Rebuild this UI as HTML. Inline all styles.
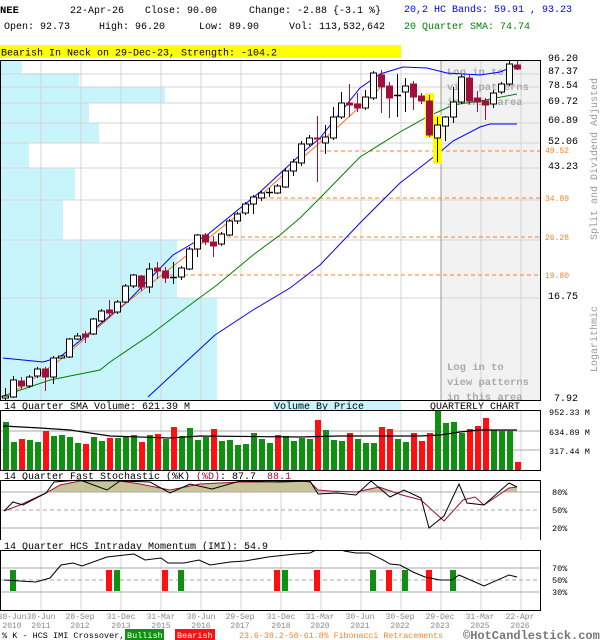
<!DOCTYPE html>
<html><head><meta charset="utf-8"><style>
body{margin:0;background:#fff;width:600px;height:640px;overflow:hidden}
svg{display:block}
text{font-family:"Liberation Mono",monospace}
</style></head><body>
<svg id="s" width="600" height="640" viewBox="0 0 600 640" xmlns="http://www.w3.org/2000/svg">
<rect width="600" height="640" fill="#fff"/>
<g font-size="10" fill="#000">
<text x="0" y="13" font-weight="bold" font-size="10.5">NEE</text>
<text x="70" y="13">22-Apr-26</text>
<text x="145" y="13">Close: 90.00</text>
<text x="249" y="13">Change: -2.88 {-3.1 %}</text>
<text x="4" y="29">Open: 92.73</text>
<text x="99" y="29">High: 96.20</text>
<text x="199" y="29">Low: 89.90</text>
<text x="289" y="29">Vol: 113,532,642</text>
<text x="404" y="12" fill="#0000ff">20,2 HC Bands: 59.91 , 93.23</text>
<text x="404" y="29" fill="#008000">20 Quarter SMA: 74.74</text>
</g>
<rect x="0" y="45" width="401" height="13" fill="#ffff00"/>
<text x="1" y="55.5" font-size="10">Bearish In Neck on 29-Dec-23, Strength: -104.2</text>
</svg>
<script>
const S=document.getElementById('s');
function el(t,a,txt){const e=document.createElementNS('http://www.w3.org/2000/svg',t);for(const k in a)e.setAttribute(k,a[k]);if(txt!==undefined)e.textContent=txt;S.appendChild(e);return e;}
function pl(pts,st,w){return el('polyline',{points:pts.map(p=>p.join(',')).join(' '),fill:'none',stroke:st,'stroke-width':w||1});}
[[60,73,21],[73,87,78],[87,103,164],[103,123,88],[123,143,98],[143,168,28],[168,200,74],[200,240,62],[240,298,176],[298,400,216]].forEach(r=>el('rect',{x:1,y:r[0],width:r[2],height:r[1]-r[0],fill:'#c8f4fc'}));
el('rect',{x:441,y:60,width:99,height:340,fill:'#f2f2f2'});
[74,87,103,123,143,168,200,240,298].forEach(y=>el('line',{x1:1,y1:y,x2:540,y2:y,stroke:'#d4d4d4'}));
for(let x=41;x<540;x+=40)el('line',{x1:x,y1:60,x2:x,y2:400,stroke:x==441?'#999':'#d4d4d4'});
[[67,'Log in to'],[82,'view patterns'],[97,'in this area'],[362,'Log in to'],[377,'view patterns'],[392,'in this area']].forEach(t=>el('text',{x:447,y:t[0]+8,'font-size':'10.5','font-weight':'bold',fill:'#aaa'},t[1]));
[[151,320],[198,263],[237,227],[275,163]].forEach(f=>el('line',{x1:f[1],y1:f[0],x2:540,y2:f[0],stroke:'#ff8020','stroke-dasharray':'4,3'}));
pl([[3,358],[43,362],[60,357],[127,302],[173,255],[207,235],[260,192],[300,155],[320,138],[360,88],[380,74],[403,67],[427,68],[447,73],[480,75],[500,72],[517,65]],'#0000ff');
pl([[148,397],[215,335],[253,310],[290,288],[320,265],[360,223],[400,183],[440,152],[453,141],[480,127],[490,124],[517,124]],'#0000ff');
pl([[0,397],[50,380],[100,370],[110,362],[150,335],[183,310],[217,285],[253,255],[280,235],[300,218],[320,198],[360,157],[400,132],[427,117],[453,105],[480,101],[517,94]],'#008000');
pl([[7,397],[60,360],[130,300],[200,245],[250,205],[300,160],[340,125],[380,88]],'#ff7020');
el('rect',{x:425,y:93,width:9,height:45,fill:'#ffff00'});
el('rect',{x:433,y:115,width:9,height:49,fill:'#ffff00'});
const C=[[396,398,388,400,'h'],[380,397,376,398,'h'],[381,386,377,389,'r'],[377,386,375,388,'h'],[369,376,367,378,'h'],[369,377,367,391,'r'],[358,377,356,384,'h'],[356,358,355,359,'h'],[339,357,338,358,'h'],[336,339,333,340,'h'],[334,337,331,343,'r'],[319,334,318,335,'h'],[311,321,309,322,'h'],[310,313,300,318,'r'],[302,312,300,314,'h'],[286,302,284,303,'h'],[275,286,274,288,'h'],[276,287,275,291,'r'],[269,287,263,293,'h'],[268,271,262,279,'r'],[271,278,267,283,'r'],[277,277,262,284,'d'],[268,277,266,280,'h'],[249,269,247,270,'h'],[235,249,234,257,'h'],[235,242,233,245,'r'],[242,246,236,257,'r'],[234,244,232,246,'h'],[221,235,219,236,'h'],[214,221,212,224,'h'],[204,213,202,215,'h'],[197,204,195,214,'h'],[193,198,191,201,'h'],[192,192,188,197,'d'],[186,193,184,194,'h'],[171,187,168,188,'h'],[162,171,159,176,'h'],[144,163,141,166,'h'],[138,144,135,146,'h'],[138,139,116,182,'r'],[137,143,125,154,'h'],[117,138,107,140,'h'],[103,117,92,119,'h'],[103,105,84,117,'r'],[104,108,93,112,'r'],[97,108,90,110,'h'],[73,98,71,100,'h'],[75,87,70,113,'r'],[86,98,82,118,'r'],[95,96,74,117,'d'],[86,92,78,112,'h'],[84,97,81,110,'r'],[96,101,93,104,'r'],[101,135,95,137,'r'],[125,138,117,162,'h'],[117,126,116,141,'h'],[102,117,87,123,'h'],[77,102,75,104,'h'],[78,101,75,104,'r'],[98,102,91,112,'r'],[101,105,98,120,'r'],[93,104,90,108,'h'],[84,92,82,94,'h'],[64,84,61,86,'h'],[65,69,60,70,'r']];
C.forEach((c,i)=>{const x=5+8*i;const red=c[4]=='r';const col=red?'#a01038':'#000';
el('line',{x1:x+.5,y1:c[2],x2:x+.5,y2:c[3],stroke:col});
if(c[4]=='d')el('line',{x1:x-3,y1:c[0]+.5,x2:x+4,y2:c[0]+.5,stroke:col,'stroke-width':1.5});
else el('rect',{x:x-2.5,y:c[0],width:6,height:Math.max(1,c[1]-c[0]),fill:red?'#a01038':'#fff',stroke:red?'#a01038':'#000'});});
el('rect',{x:0.5,y:60.5,width:540,height:340,fill:'none',stroke:'#000'});
[[57,'96.20'],[70,'87.37'],[84,'78.54'],[100,'69.72'],[119,'60.89'],[140,'52.06'],[165,'43.23'],[295,'16.75'],[397,'7.92']].forEach(t=>el('text',{x:t[1].length==4?554:548,y:t[0]+4,'font-size':'10'},t[1]));
[[150,'49.52'],[198,'34.89'],[237,'26.28'],[275,'19.80']].forEach(t=>el('text',{x:545,y:t[0]+3,'font-size':'8',fill:'#ff8020'},t[1]));
el('text',{x:0,y:0,'font-size':'10',fill:'#999',transform:'translate(597,240) rotate(-90)'},'Split and Dividend Adjusted');
el('text',{x:0,y:0,'font-size':'10',fill:'#999',transform:'translate(597,372) rotate(-90)'},'Logarithmic');
// volume
el('rect',{x:273,y:401,width:128,height:9,fill:'#c8f4fc'});
el('text',{x:4,y:409,'font-size':'10'},'14 Quarter SMA Volume: 621.39 M');
el('text',{x:274,y:409,'font-size':'10'},'Volume By Price');
el('text',{x:430,y:409,'font-size':'10'},'QUARTERLY CHART');
const grid=(y1,y2)=>{for(let x=41;x<540;x+=40)el('line',{x1:x,y1:y1,x2:x,y2:y2,stroke:'#d4d4d4'});};
grid(411,470);[431,450].forEach(y=>el('line',{x1:1,y1:y,x2:540,y2:y,stroke:'#aaa'}));
const V=[422,442,439,440,442,431,436,435,437,443,444,437,441,438,438,437,435,442,435,434,439,427,436,428,440,437,429,441,440,445,444,433,439,443,435,436,441,438,439,420,430,440,441,433,439,443,443,427,429,439,442,433,441,433,411,423,422,433,429,426,418,430,431,431,462];
const R=[2,5,10,13,17,19,21,26,34,39,43,47,48,51,52,53,58,59,60,64];
V.forEach((y,i)=>el('rect',{x:3+8*i,y:y,width:6,height:470-y,fill:R.includes(i)?'#ff1010':'#109010'}));
pl([[3,426],[40,428],[70,430],[110,436],[170,438],[200,436],[300,437],[340,436],[420,436],[440,435],[460,432],[480,430],[517,430]],'#000',1.2);
el('rect',{x:0.5,y:410.5,width:540,height:60,fill:'none',stroke:'#000'});
[[412,'952.33 M'],[432,'634.89 M'],[451,'317.44 M']].forEach(t=>el('text',{x:549,y:t[0]+3,'font-size':'8.5'},t[1]));
// stochastic
el('text',{x:4,y:479,'font-size':'10'},'14 Quarter Fast Stochastic (%K)');
el('text',{x:196,y:479,'font-size':'10',fill:'#a01038'},'(%D)');
el('text',{x:220,y:479,'font-size':'10'},': 87.7');
el('text',{x:267,y:479,'font-size':'10',fill:'#a01038'},'88.1');
grid(481,540);
const D=[[4,511],[20,505],[46,493],[60,485],[80,481],[120,481],[140,484],[170,490],[200,484],[240,482],[260,482],[300,481],[310,482],[318,490],[330,491],[356,492],[379,487],[402,495],[421,500],[444,521],[463,500],[475,497],[484,505],[509,488],[517,487]];
const K=[[4,511],[13,502],[23,505],[46,493],[54,482],[80,480],[107,490],[120,481],[150,482],[170,493],[190,484],[212,489],[240,481],[280,482],[310,481],[318,494],[337,493],[356,495],[371,481],[390,497],[404,490],[421,498],[429,528],[444,516],[459,484],[467,503],[484,505],[509,483],[517,487]];
const cp=el('clipPath',{id:'cp'});const r=document.createElementNS('http://www.w3.org/2000/svg','rect');r.setAttribute('x',0);r.setAttribute('y',480);r.setAttribute('width',540);r.setAttribute('height',12);cp.appendChild(r);
el('polygon',{points:[[4,492],...D,[517,492]].map(p=>p.join(',')).join(' '),fill:'#c8c49a','clip-path':'url(#cp)'});
[492,528].forEach(y=>el('line',{x1:1,y1:y,x2:540,y2:y,stroke:'#aaa'}));
el('line',{x1:1,y1:510,x2:540,y2:510,stroke:'#aaa','stroke-dasharray':'4,3'});
pl(D,'#a01038');pl(K,'#000');
el('rect',{x:0.5,y:480.5,width:540,height:60,fill:'none',stroke:'#000'});
[[492,'80%'],[510,'50%'],[528,'20%']].forEach(t=>el('text',{x:552,y:t[0]+3,'font-size':'8.5'},t[1]));
// IMI
grid(551,610);
[568,592].forEach(y=>el('line',{x1:1,y1:y,x2:540,y2:y,stroke:'#aaa'}));
el('line',{x1:1,y1:580,x2:540,y2:580,stroke:'#aaa','stroke-dasharray':'4,3'});
[[13,'g'],[109,'r'],[117,'g'],[165,'r'],[181,'g'],[277,'r'],[285,'g'],[317,'r'],[373,'g'],[389,'r'],[405,'g'],[429,'r'],[453,'g']].forEach(b=>el('rect',{x:b[0]-3,y:570,width:6,height:21,fill:b[1]=='g'?'#109010':'#ff1010'}));
pl([[4,580],[36,582],[50,578],[61,565],[73,563],[82,566],[107,557],[134,554],[145,560],[161,558],[168,563],[184,563],[199,560],[210,565],[230,562],[245,561],[268,557],[295,554],[310,553],[314,551],[320,548],[340,548],[344,551],[356,553],[369,553],[383,560],[390,564],[400,565],[413,572],[425,577],[440,580],[452,580],[459,575],[484,586],[509,575],[517,577]],'#000');
el('rect',{x:0,y:540,width:541,height:10,fill:'#fff'});
el('text',{x:4,y:549,'font-size':'10'},'14 Quarter HCS Intraday Momentum (IMI): 54.9');
el('rect',{x:0.5,y:550.5,width:540,height:60,fill:'none',stroke:'#000'});
[[568,'70%'],[580,'50%'],[592,'30%']].forEach(t=>el('text',{x:552,y:t[0]+3,'font-size':'8.5'},t[1]));
[[12,'30-Jun','2010'],[41,'30-Jun','2011'],[80,'28-Sep','2012'],[121,'31-Dec','2013'],[161,'31-Mar','2015'],[201,'30-Jun','2016'],[240,'29-Sep','2017'],[281,'31-Dec','2018'],[320,'31-Mar','2020'],[360,'30-Jun','2021'],[400,'30-Sep','2022'],[440,'29-Dec','2023'],[480,'31-Mar','2025'],[520,'22-Apr','2026']].forEach(d=>{el('text',{x:d[0],y:619,'font-size':'8',fill:'#888','text-anchor':'middle'},d[1]);el('text',{x:d[0],y:628,'font-size':'8',fill:'#888','text-anchor':'middle'},d[2]);});
el('text',{x:2,y:638,'font-size':'8.5'},'% K - HCS IMI Crossover,');
el('rect',{x:125,y:629,width:39,height:11,fill:'#109010'});
el('text',{x:127,y:638,'font-size':'8.5',fill:'#fff'},'Bullish');
el('rect',{x:175,y:629,width:40,height:11,fill:'#ff1010'});
el('text',{x:177,y:638,'font-size':'8.5',fill:'#fff'},'Bearish');
el('text',{x:239,y:638,'font-size':'8.3',fill:'#ff8020'},'23.6-38.2-50-61.8% Fibonacci Retracements');
el('text',{x:463,y:639,'font-size':'12','font-weight':'bold',fill:'#777'},'©HotCandlestick.com');
</script>
</body></html>
